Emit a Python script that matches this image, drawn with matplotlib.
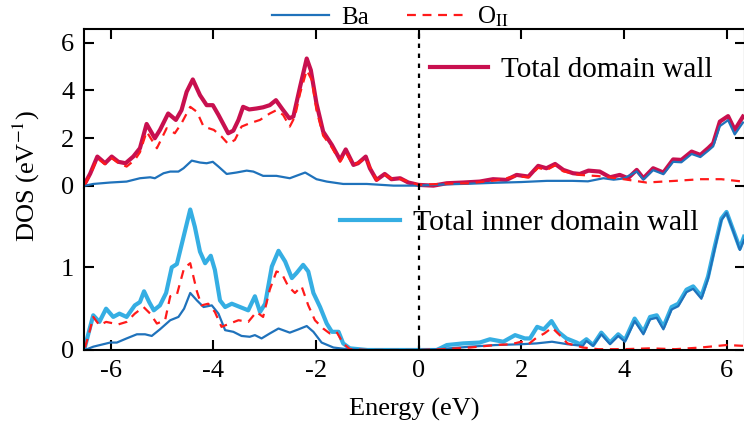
import matplotlib
matplotlib.use("Agg")
import matplotlib.pyplot as plt

plt.rcParams["font.family"] = ["Liberation Serif", "DejaVu Serif"]
plt.rcParams["mathtext.fontset"] = "stix"

# ---- top panel: whole domain wall ----
wall_E = [-6.5, -6.4, -6.26, -6.11, -5.98, -5.85, -5.71, -5.56, -5.43, -5.3, -5.14, -5.04,
          -4.88, -4.73, -4.62, -4.52, -4.4, -4.26, -4.13, -4.01, -3.9, -3.71, -3.61, -3.51,
          -3.42, -3.3, -3.16, -3.03, -2.9, -2.78, -2.65, -2.52, -2.44, -2.31, -2.18, -2.1,
          -1.99, -1.86, -1.69, -1.53, -1.42, -1.27, -1.18, -1.03, -0.95, -0.82, -0.66, -0.53,
          -0.36, -0.2, 0.0, 0.29, 0.55, 0.87, 1.19, 1.45, 1.71, 1.91, 2.14, 2.33, 2.49, 2.66,
          2.82, 3.01, 3.14, 3.31, 3.53, 3.73, 3.92, 4.08, 4.25, 4.38, 4.57, 4.77, 4.96, 5.12,
          5.32, 5.49, 5.65, 5.74, 5.87, 6.03, 6.16, 6.32]
wall_total = [0.1, 0.5, 1.22, 0.94, 1.22, 1.0, 0.94, 1.22, 1.57, 2.59, 1.99, 2.34,
              3.03, 2.76, 3.17, 3.94, 4.46, 3.8, 3.38, 3.38, 2.97, 2.2, 2.31, 2.76,
              3.31, 3.2, 3.24, 3.29, 3.38, 3.59, 3.2, 2.83, 2.9, 4.15, 5.34, 4.85,
              3.45, 2.27, 1.71, 1.08, 1.52, 0.87, 0.94, 1.22, 0.73, 0.24, 0.49, 0.27,
              0.31, 0.13, 0.03, 0.0, 0.1, 0.13, 0.17, 0.27, 0.24, 0.45, 0.38, 0.83, 0.73, 0.91,
              0.66, 0.52, 0.49, 0.63, 0.59, 0.35, 0.45, 0.31, 0.66, 0.31, 0.73, 0.55, 1.1, 1.08,
              1.43, 1.29, 1.59, 1.78, 2.69, 2.92, 2.34, 2.9]

wall_ba_E = [-6.5, -6.34, -6.01, -5.69, -5.43, -5.23, -5.14, -4.97, -4.84, -4.68, -4.58, -4.42,
             -4.26, -4.13, -4.01, -3.9, -3.74, -3.55, -3.35, -3.22, -3.03, -2.77, -2.51, -2.21,
             -1.99, -1.79, -1.47, -1.01, -0.49, 0.0, 0.5, 1.0, 1.5, 2.0, 2.5, 3.0, 3.3, 3.6,
             3.8, 4.0, 4.25, 4.38, 4.57, 4.77, 4.96, 5.12, 5.32, 5.49, 5.65, 5.74, 5.87, 6.03,
             6.16, 6.32]
wall_ba = [0.0, 0.07, 0.13, 0.17, 0.31, 0.35, 0.31, 0.52, 0.59, 0.59, 0.73, 1.05,
           0.97, 0.94, 1.0, 0.8, 0.49, 0.55, 0.63, 0.59, 0.41, 0.41, 0.31, 0.55,
           0.27, 0.17, 0.07, 0.07, 0.0, 0.0, 0.05, 0.08, 0.12, 0.15, 0.2, 0.2, 0.18, 0.31,
           0.25, 0.3, 0.6, 0.25, 0.65, 0.48, 1.0, 0.98, 1.33, 1.2, 1.48, 1.65, 2.5, 2.75,
           2.15, 2.65]

wall_o_E = [-6.5, -6.4, -6.26, -6.11, -5.98, -5.85, -5.69, -5.53, -5.43, -5.3, -5.1, -4.91,
            -4.75, -4.62, -4.45, -4.32, -4.19, -3.99, -3.84, -3.71, -3.58, -3.45, -3.29, -3.09,
            -2.9, -2.77, -2.64, -2.51, -2.41, -2.31, -2.18, -2.08, -1.99, -1.86, -1.69, -1.53,
            -1.42, -1.27, -1.03, -0.82, -0.66, -0.49, -0.36, 0.0, 0.5, 1.0, 1.5, 1.91, 2.14,
            2.33, 2.49, 2.66, 2.82, 3.14, 3.5, 3.9, 4.44, 5.0, 5.5, 5.9, 6.32]
wall_o = [0.05, 0.45, 1.15, 0.9, 1.15, 0.95, 0.8, 1.08, 1.4, 2.27, 1.57, 2.41,
          2.2, 2.62, 3.31, 3.1, 2.48, 2.34, 2.06, 1.75, 1.92, 2.48, 2.62, 2.76,
          3.03, 3.17, 2.97, 2.48, 2.9, 3.87, 4.85, 4.43, 3.17, 2.1, 1.6, 1.0,
          1.4, 0.85, 1.15, 0.22, 0.45, 0.25, 0.28, 0.03, 0.08, 0.1, 0.22, 0.4, 0.35,
          0.75, 0.65, 0.85, 0.6, 0.45, 0.4, 0.3, 0.13, 0.2, 0.27, 0.27, 0.17]

# ---- bottom panel: inner domain wall ----
inner_E = [-6.5, -6.4, -6.34, -6.22, -6.09, -5.95, -5.83, -5.69, -5.53, -5.43, -5.35, -5.25,
           -5.16, -5.04, -4.92, -4.81, -4.71, -4.58, -4.45, -4.36, -4.26, -4.16, -4.05, -3.97,
           -3.87, -3.77, -3.64, -3.48, -3.32, -3.19, -3.09, -2.99, -2.86, -2.73, -2.6, -2.47,
           -2.38, -2.25, -2.15, -2.05, -1.92, -1.79, -1.69, -1.56, -1.47, -1.34, -1.0, 0.0,
           0.35, 0.42, 0.55, 0.87, 1.19, 1.39, 1.65, 1.88, 2.07, 2.17, 2.31, 2.44, 2.59, 2.72,
           2.88, 3.08, 3.14, 3.27, 3.4, 3.56, 3.73, 3.89, 4.02, 4.21, 4.38, 4.51, 4.64, 4.77,
           4.93, 5.06, 5.22, 5.35, 5.51, 5.64, 5.77, 5.9, 6.0, 6.13, 6.26, 6.34]
inner_total = [0.04, 0.28, 0.42, 0.34, 0.5, 0.4, 0.44, 0.4, 0.54, 0.58, 0.71, 0.58,
               0.48, 0.54, 0.69, 1.0, 1.04, 1.37, 1.7, 1.49, 1.19, 1.05, 1.14, 0.97,
               0.6, 0.52, 0.56, 0.52, 0.48, 0.65, 0.46, 0.56, 1.01, 1.2, 1.07, 0.87,
               0.93, 1.03, 0.95, 0.69, 0.52, 0.32, 0.22, 0.22, 0.08, 0.02, 0.0, 0.0,
               0.0, 0.02, 0.06, 0.08, 0.09, 0.13, 0.1, 0.18, 0.14, 0.14, 0.28, 0.25, 0.35, 0.22,
               0.14, 0.09, 0.07, 0.13, 0.06, 0.21, 0.09, 0.19, 0.12, 0.38, 0.22, 0.4, 0.42, 0.28,
               0.52, 0.56, 0.73, 0.77, 0.65, 0.89, 1.25, 1.59, 1.67, 1.45, 1.23, 1.37]

inner_ba_E = [-6.5, -6.34, -6.01, -5.88, -5.69, -5.49, -5.33, -5.2, -5.04, -4.84, -4.68, -4.57,
              -4.45, -4.32, -4.19, -4.03, -3.9, -3.77, -3.61, -3.45, -3.29, -3.19, -3.06, -2.9,
              -2.73, -2.51, -2.34, -2.18, -2.05, -1.89, -1.66, -1.4, -1.0, 0.0, 0.4, 1.0, 1.5,
              2.0, 2.3, 2.6, 2.9, 3.2, 3.27, 3.4, 3.56, 3.73, 3.89, 4.02, 4.21, 4.38, 4.51,
              4.64, 4.77, 4.93, 5.06, 5.22, 5.35, 5.51, 5.64, 5.77, 5.9, 6.0, 6.13, 6.26, 6.34]
inner_ba = [0.0, 0.04, 0.09, 0.09, 0.14, 0.19, 0.19, 0.17, 0.25, 0.36, 0.4, 0.5,
            0.69, 0.6, 0.52, 0.54, 0.44, 0.24, 0.22, 0.17, 0.16, 0.18, 0.14, 0.2,
            0.26, 0.21, 0.25, 0.29, 0.22, 0.09, 0.03, 0.01, 0.0, 0.0, 0.01, 0.04, 0.06,
            0.07, 0.08, 0.1, 0.07, 0.05, 0.11, 0.05, 0.19, 0.07, 0.17, 0.1, 0.35, 0.19, 0.37,
            0.39, 0.25, 0.49, 0.53, 0.7, 0.74, 0.62, 0.86, 1.22, 1.57, 1.66, 1.44, 1.21, 1.33]

inner_o_E = [-6.5, -6.4, -6.34, -6.22, -6.09, -5.85, -5.69, -5.53, -5.36, -5.23, -5.1, -4.94,
             -4.84, -4.71, -4.57, -4.45, -4.32, -4.23, -4.1, -3.97, -3.84, -3.68, -3.51, -3.32,
             -3.16, -3.03, -2.9, -2.77, -2.67, -2.54, -2.41, -2.28, -2.15, -2.02, -1.86, -1.73,
             -1.6, -1.47, -1.34, -1.0, 0.0, 0.5, 1.0, 1.5, 1.8, 2.0, 2.14, 2.3, 2.45, 2.6,
             2.75, 2.9, 3.2, 3.5, 4.0, 4.5, 5.0, 5.5, 6.0, 6.34]
inner_o = [0.03, 0.25, 0.4, 0.3, 0.34, 0.31, 0.34, 0.44, 0.52, 0.44, 0.32, 0.36,
           0.65, 0.67, 0.99, 1.05, 0.71, 0.54, 0.56, 0.46, 0.28, 0.32, 0.36, 0.34,
           0.46, 0.4, 0.73, 0.95, 0.93, 0.77, 0.69, 0.77, 0.54, 0.36, 0.26, 0.2,
           0.22, 0.08, 0.01, 0.0, 0.0, 0.01, 0.03, 0.06, 0.07, 0.1, 0.07, 0.15, 0.2, 0.27,
           0.18, 0.08, 0.03, 0.01, 0.01, 0.02, 0.01, 0.03, 0.06, 0.05]

BA_COLOR = "#1f72bb"
O_COLOR = "#ff1a1a"
WALL_COLOR = "#c8104f"
INNER_COLOR = "#35aee3"

fig = plt.figure(figsize=(7.44, 4.36), dpi=100)
ax_top = fig.add_axes([84 / 744, 1 - 188 / 436, 661 / 744, 159 / 436])
ax_bot = fig.add_axes([84 / 744, 1 - 350 / 436, 661 / 744, 162 / 436], sharex=ax_top)

ax_top.plot(wall_E, wall_total, color=WALL_COLOR, lw=3.0, label="Total domain wall")
ax_top.plot(wall_ba_E, wall_ba, color=BA_COLOR, lw=1.6)
ax_top.plot(wall_o_E, wall_o, color=O_COLOR, lw=1.6, ls=(0, (4, 3)))

ax_bot.plot(inner_E, inner_total, color=INNER_COLOR, lw=3.0, label="Total inner domain wall")
ax_bot.plot(inner_ba_E, inner_ba, color=BA_COLOR, lw=1.6, label="Ba")
ax_bot.plot(inner_o_E, inner_o, color=O_COLOR, lw=1.6, ls=(0, (4, 3)), label=r"O$_{\rm II}$")

for ax in (ax_top, ax_bot):
    ax.axvline(0, color="black", lw=1.6, ls=(0, (2, 2.5)))
    ax.set_xlim(-6.52, 6.36)
    ax.tick_params(direction="in", length=7, width=1.5, labelsize=19, pad=7,
                   top=True, right=True)
    for side in ax.spines.values():
        side.set_linewidth(1.5)
    ax.set_xticks([-6, -4, -2, 0, 2, 4, 6])

ax_top.set_ylim(-0.1, 6.58)
ax_top.set_yticks([0, 2, 4, 6])
ax_top.spines["bottom"].set_visible(False)
ax_top.tick_params(bottom=False, labelbottom=False)

ax_bot.set_ylim(0, 1.96)
ax_bot.set_yticks([0, 1])
ax_bot.spines["top"].set_visible(False)
ax_bot.tick_params(top=False)
ax_bot.set_xticklabels(["-6", "-4", "-2", "0", "2", "4", "6"])
ax_bot.set_xlabel("Energy (eV)", fontsize=19, labelpad=12)

fig.text(26 / 744, 1 - 176 / 436, r"DOS (eV$^{-1}$)", rotation=90,
         ha="center", va="center", fontsize=19)

h_ba, h_o = ax_bot.get_lines()[1:3]
fig.legend([h_ba, h_o], ["Ba", r"O$_{\rm II}$"], loc="center",
           bbox_to_anchor=(390 / 744, 1 - 17 / 436), ncol=2, frameon=False,
           fontsize=18, handlelength=2.3, columnspacing=1.5, borderpad=0,
           handletextpad=0.5)

ax_top.legend(loc="center left", bbox_to_anchor=(430 / 744, 1 - 70 / 436),
              bbox_transform=fig.transFigure, frameon=False, fontsize=21,
              handlelength=2.0, borderpad=0, borderaxespad=0, handletextpad=0.45)
ax_bot.legend(handles=[ax_bot.get_lines()[0]], loc="center left",
              bbox_to_anchor=(340 / 744, 1 - 223 / 436),
              bbox_transform=fig.transFigure, frameon=False, fontsize=21.5,
              handlelength=2.0, borderpad=0, borderaxespad=0, handletextpad=0.45)

fig.savefig("out.png", dpi=100)
